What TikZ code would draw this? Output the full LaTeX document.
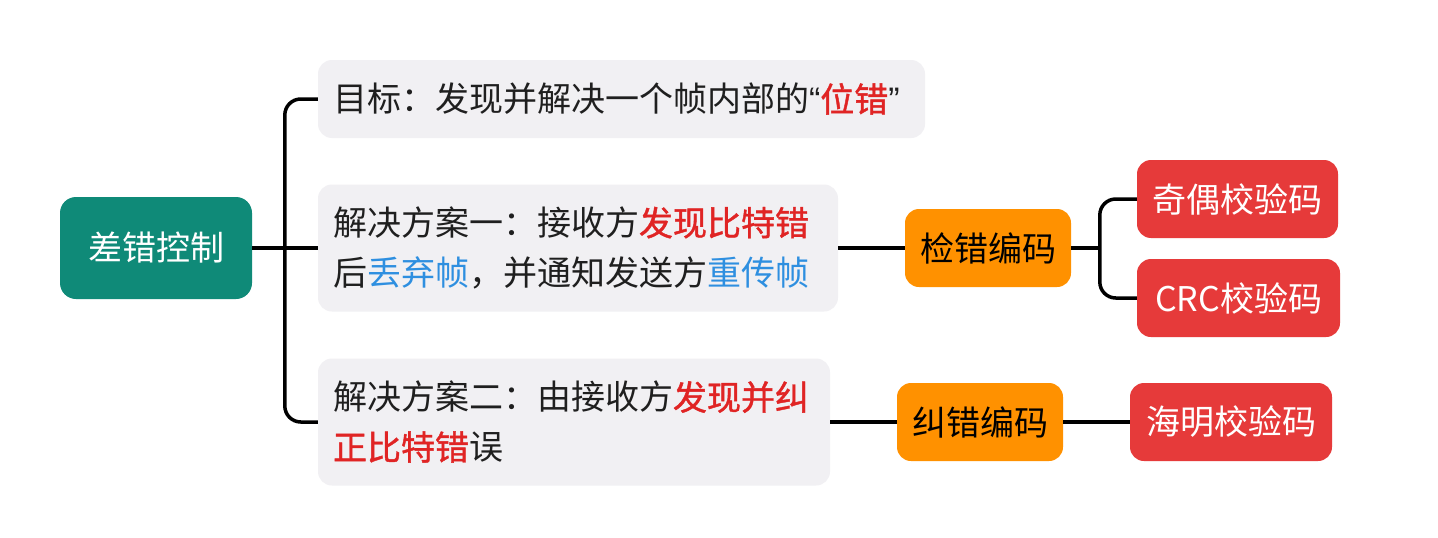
\documentclass[tikz,border=0pt]{standalone}
\usepackage{fontspec}
\setmainfont{Noto Sans CJK SC}
\newfontfamily\semib[FakeBold=1.2]{Noto Sans CJK SC}
\newfontfamily\latinq{Liberation Sans}
\definecolor{tealbox}{HTML}{0F8A78}
\definecolor{orangebox}{HTML}{FF9100}
\definecolor{redbox}{HTML}{E63A3A}
\definecolor{grayfill}{HTML}{F1F0F3}
\definecolor{hired}{HTML}{E02424}
\definecolor{hiblue}{HTML}{2E8FE0}
\newcommand{\hr}[1]{{\semib\color{hired}#1}}
\newcommand{\hb}[1]{{\color{hiblue}#1}}
\begin{document}
\begin{tikzpicture}[x=1pt,y=-1pt,
  box/.style={rounded corners=14pt, inner sep=0pt, font=\fontsize{34}{50}\selectfont},
  rootbox/.style={box, fill=tealbox, text=white, rounded corners=16pt},
  orbox/.style={box, fill=orangebox, text=black},
  rdbox/.style={box, fill=redbox, text=white},
  graybox/.style={box, fill=grayfill, text=black!88, align=left, inner xsep=15pt},
  conn/.style={draw=black, line width=3.5pt, rounded corners=16pt}
]
\useasboundingbox (0,0) rectangle (1438,538);
\fill[white] (0,0) rectangle (1438,538);

\node[rootbox, minimum width=192pt, minimum height=102pt] (root) at (156,248) {差错控制};

\node[graybox, text width=577pt, minimum height=78pt] (n1) at (621.5,99)
  {目标：发现并解决一个帧内部的{\latinq “}\hr{位错}{\latinq ”}};
\node[graybox, text width=490pt, minimum height=127pt] (n2) at (578,248)
  {解决方案一：接收方\hr{发现比特错}\\后\hb{丢弃帧}，并通知发送方\hb{重传帧}};
\node[graybox, text width=482pt, minimum height=127pt] (n3) at (574,422)
  {解决方案二：由接收方\hr{发现并纠}\\\hr{正比特错}误};

\node[orbox, minimum width=166pt, minimum height=78pt] (o1) at (988,248) {检错编码};
\node[orbox, minimum width=166pt, minimum height=78pt] (o2) at (980,422) {纠错编码};

\node[rdbox, minimum width=201pt, minimum height=78pt] (r1) at (1237.5,199) {奇偶校验码};
\node[rdbox, minimum width=203pt, minimum height=78pt] (r2) at (1238.5,298) {CRC校验码};
\node[rdbox, minimum width=202pt, minimum height=78pt] (r3) at (1231,422) {海明校验码};

\coordinate (j1) at (1100,248);

\draw[conn] (n1.west) -- ++(-33,0) |- (n3.west);
\draw[conn] (root.east) -- (n2.west);
\draw[conn] (n2.east) -- (o1.west);
\draw[conn] (n3.east) -- (o2.west);
\draw[conn] (o2.east) -- (r3.west);
\draw[conn] (o1.east) -- (j1);
\draw[conn] (r1.west) -- ++(-37,0) |- (r2.west);
\end{tikzpicture}
\end{document}
